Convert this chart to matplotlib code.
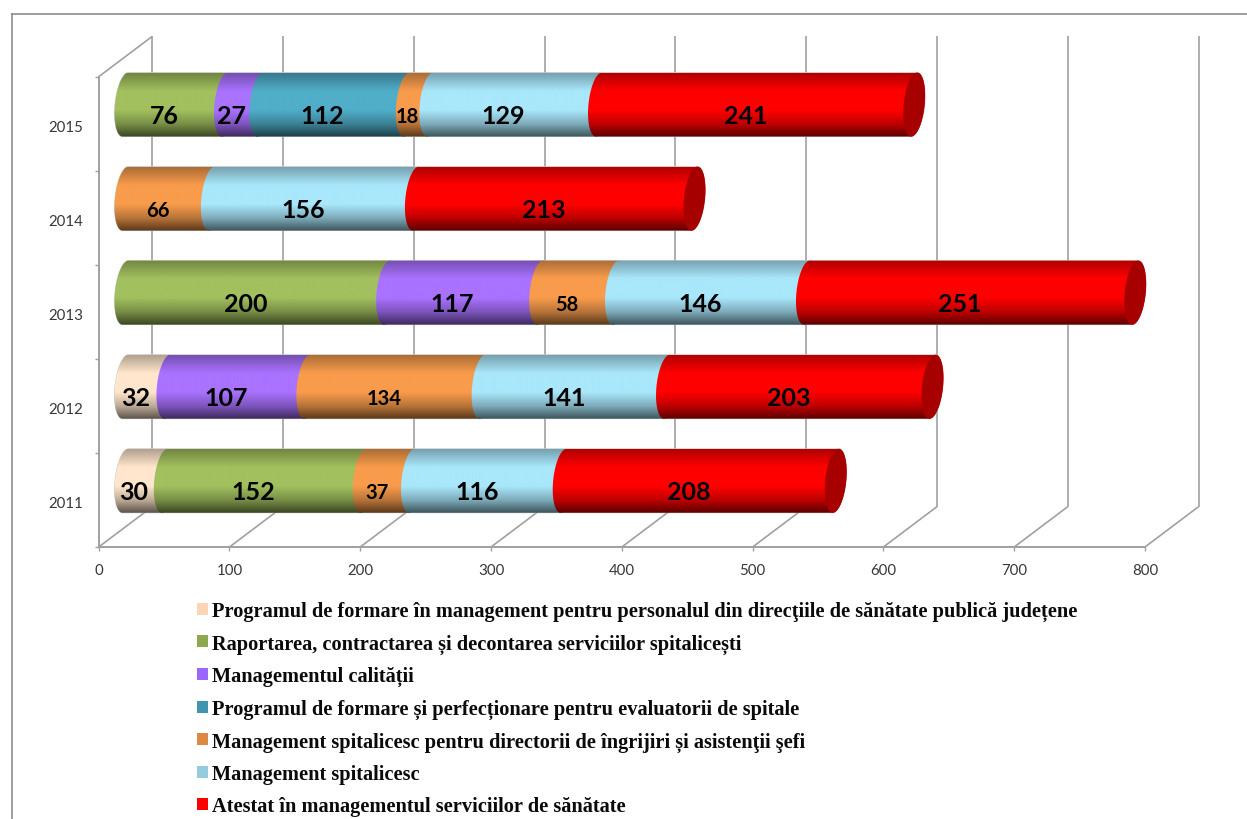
import numpy as np
import matplotlib
matplotlib.use("Agg")
import matplotlib.pyplot as plt
from matplotlib.lines import Line2D
from matplotlib.patches import Polygon, Patch

years = ["2011", "2012", "2013", "2014", "2015"]
series_names = [
    "Programul de formare în management pentru personalul din direcţiile de sănătate publică județene",
    "Raportarea, contractarea și decontarea serviciilor spitalicești",
    "Managementul calității",
    "Programul de formare și perfecționare pentru evaluatorii de spitale",
    "Management spitalicesc pentru directorii de îngrijiri și asistenţii şefi",
    "Management spitalicesc",
    "Atestat în managementul serviciilor de sănătate",
]
programul = [30, 32, 0, 0, 0]
raportarea = [152, 0, 200, 0, 76]
calitatii = [0, 107, 117, 0, 27]
evaluatori = [0, 0, 0, 0, 112]
directori = [37, 134, 58, 66, 18]
spitalicesc = [116, 141, 146, 156, 129]
atestat = [208, 203, 251, 213, 241]
series_values = [programul, raportarea, calitatii, evaluatori, directori, spitalicesc, atestat]
bright = ["#FFE6CC", "#A2C05E", "#A972FF", "#50AEC9", "#F89C4C", "#A9E7FB", "#FF0000"]
legend_colors = ["#FCD5B5", "#8EA84E", "#9966FF", "#4195AE", "#DD8845", "#93CDDD", "#FF0000"]
small_label_series = 4  # orange series uses smaller labels
x_ticks = [0, 100, 200, 300, 400, 500, 600, 700, 800]

W, H = 1247, 820
fig = plt.figure(figsize=(W / 100, H / 100), dpi=100, facecolor="white")
L, R, T, B = 98.7, 1145.0, 77.7, 548.0
ax = fig.add_axes([L / W, 1 - B / H, (R - L) / W, (B - T) / H])
ax.patch.set_visible(False)

GRID = "#A0A0A0"
px_x = (R - L) / 800
px_y = (B - T) / 5
depth_x, depth_y = 53.5 / px_x, 40.3 / px_y      # floor depth in data units
bar_dx, bar_dy = 26.8 / px_x, 19.2 / px_y        # bar position inside the depth
rad_x, skew_x, half_h = 10.5 / px_x, 3.0 / px_x, 32.0 / px_y
lab_dx, lab_dy = 11.0 / px_x, 11.0 / px_y

# frame: left and top edges only
frame_kw = dict(color="#8C8C8C", lw=1.2, transform=fig.transFigure)
fig.add_artist(Line2D([11.5 / W, 11.5 / W], [0, 1 - 14.5 / H], **frame_kw))
fig.add_artist(Line2D([11.5 / W, 1], [1 - 14.5 / H, 1 - 14.5 / H], **frame_kw))

# walls
wall_kw = dict(color=GRID, lw=1.2, clip_on=False, zorder=1, solid_capstyle="butt")
for v in x_ticks:
    ax.plot([v, v + depth_x], [-0.5, -0.5 + depth_y], **wall_kw)
    ax.plot([v + depth_x] * 2, [-0.5 + depth_y, 4.5 + depth_y], **wall_kw)
ax.plot([0, depth_x], [4.5, 4.5 + depth_y], **wall_kw)

ax.set_xlim(0, 800)
ax.set_ylim(-0.5, 4.5)
for s in ("top", "right"):
    ax.spines[s].set_visible(False)
for s in ("left", "bottom"):
    ax.spines[s].set_color(GRID)
    ax.spines[s].set_linewidth(1.4)
ax.set_xticks(x_ticks)
ax.set_yticks(np.arange(5) - 2.0 / px_y)
ax.set_yticklabels(years)
ax.set_yticks(np.arange(-0.5, 5), minor=True)
ax.tick_params(axis="x", length=3.2, width=1, color=GRID, pad=8, labelsize=10.8, labelcolor="#383838")
ax.tick_params(axis="y", which="major", length=0, pad=11, labelsize=10.8, labelcolor="#383838")
ax.tick_params(axis="y", which="minor", length=3.2, width=1, color=GRID)
for t in ax.get_xticklabels() + ax.get_yticklabels():
    t.set_fontfamily("Lato")

stops_t = [0, 0.06, 0.28, 0.58, 0.80, 1.0]
stops_f = [0.70, 0.76, 1.0, 1.0, 0.74, 0.36]
tt = np.linspace(0, 1, 128)
shade = np.interp(tt, stops_t, stops_f)


def gradient(color):
    rgb = np.array(matplotlib.colors.to_rgb(color))
    return (rgb[None, None, :] * shade[:, None, None]).clip(0, 1)


def ellipse(cx, cy, t):
    return np.column_stack([cx + rad_x * np.cos(t) + skew_x * np.sin(t), cy + half_h * np.sin(t)])


t_left = np.linspace(np.pi / 2, 3 * np.pi / 2, 60)
t_right = np.linspace(-np.pi / 2, np.pi / 2, 60)
for i in range(5):
    cy = i + bar_dy
    start = bar_dx
    for color, vals, k in zip(bright, series_values, range(7)):
        v = vals[i]
        if not v:
            continue
        end = start + v
        shape = np.vstack([ellipse(start, cy, t_left), ellipse(end, cy, t_right)])
        im = ax.imshow(gradient(color), extent=(start - 2 * rad_x, end + 2 * rad_x, cy - half_h, cy + half_h),
                       aspect="auto", interpolation="bilinear", zorder=3)
        poly = Polygon(shape, closed=True, transform=ax.transData)
        im.set_clip_path(poly)
        im.set_clip_box(fig.bbox)
        size = 14.5 if k == small_label_series else 18
        ax.text((start + end) / 2 - lab_dx, cy - lab_dy, str(v), ha="center", va="center",
                family="Lato", weight="bold", fontsize=size, color="black", zorder=6)
        start = end
    outline = np.vstack([ellipse(bar_dx, cy, t_left), ellipse(start, cy, t_right)])
    ax.add_patch(Polygon(outline, closed=True, fill=False, ec="#C4C4C4", lw=0.6, clip_on=False, zorder=2.5))
    cap = ellipse(start, cy, np.linspace(0, 2 * np.pi, 120))
    ax.add_patch(Polygon(cap, closed=True, fc="#A60000", ec="none", clip_on=False, zorder=5))

ax.set_xlim(0, 800)
ax.set_ylim(-0.5, 4.5)

handles = [Patch(fc=c, ec="none") for c in legend_colors]
fs = 14.7
fpx = fs * 100 / 72
fig.legend(handles, series_names, loc="upper left", bbox_to_anchor=(196.5 / W, 1 - 602 / H),
           frameon=False, borderpad=0, borderaxespad=0,
           prop={"family": "Liberation Serif", "weight": "bold", "size": fs},
           handlelength=11 / fpx, handleheight=11 / fpx, handletextpad=5 / fpx,
           labelspacing=(32.85 - fpx) / fpx, labelcolor="#0A0A0A")

fig.savefig("out.png", dpi=100)
